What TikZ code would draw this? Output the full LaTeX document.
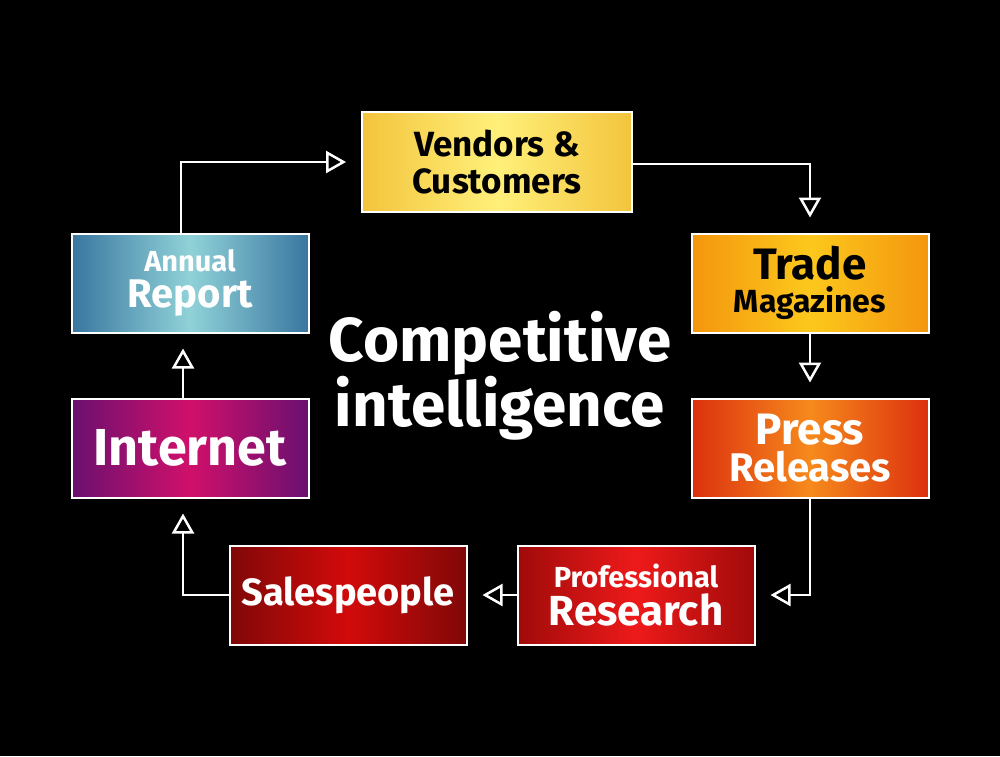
\documentclass[tikz,border=0pt]{standalone}
\usepackage{fontspec}
\setmainfont{Fira Sans}
\usetikzlibrary{arrows.meta, positioning}

\newcommand{\txtsize}[2]{\fontsize{#1}{#2}\selectfont}

\tikzset{
  box/.style={draw=white, line width=2pt, minimum width=237pt, minimum height=99pt,
              inner sep=2pt, align=center, text=white},
  boxshade/.style 2 args={left color=#1, right color=#1, middle color=#2},
  flow/.style={draw=white, line width=2.5pt, shorten >=15pt,
               -{Triangle[open, length=20pt, width=22pt]}}
}

\definecolor{vendout}{HTML}{F3C43C}
\definecolor{vendin}{HTML}{FFF07A}
\definecolor{tradeout}{HTML}{F4960E}
\definecolor{tradein}{HTML}{FCC81C}
\definecolor{pressout}{HTML}{DC300E}
\definecolor{pressin}{HTML}{F68A1C}
\definecolor{profout}{HTML}{A00A0A}
\definecolor{profin}{HTML}{EE1A1A}
\definecolor{salesout}{HTML}{800808}
\definecolor{salesin}{HTML}{D20A0A}
\definecolor{inetout}{HTML}{6A1070}
\definecolor{inetin}{HTML}{D0106A}
\definecolor{annout}{HTML}{3A76A0}
\definecolor{annin}{HTML}{90D2D8}

\begin{document}
\begin{tikzpicture}[x=1pt, y=-1pt]

    % Hintergrund
    \fill[black] (0,0) rectangle (1000,756);
    \useasboundingbox (0,0) rectangle (1000,756);

    % Quellen
    \node[box, boxshade={vendout}{vendin}, minimum width=270pt, minimum height=100pt,
          text=black, font=\bfseries\txtsize{35}{37}]
        (vend) at (497,162)
        {Vendors \&\\Customers};

    \node[box, boxshade={tradeout}{tradein}, text=black, font=\bfseries\txtsize{32}{33}]
        (trade) at (810,283)
        {{\txtsize{44}{44}Trade}\\Magazines};

    \node[box, boxshade={pressout}{pressin}, font=\bfseries\txtsize{40}{37}]
        (press) at (810,448)
        {{\txtsize{44}{44}Press}\\Releases};

    \node[box, boxshade={profout}{profin}, font=\bfseries\txtsize{29}{38}]
        (prof) at (636,595)
        {Professional\\{\txtsize{42}{42}Research}};

    \node[box, boxshade={salesout}{salesin}, font=\bfseries\txtsize{38}{40}]
        (sales) at (348,595)
        {Salespeople};

    \node[box, boxshade={inetout}{inetin}, font=\bfseries\txtsize{52}{54}]
        (inet) at (190,448)
        {Internet};

    \node[box, boxshade={annout}{annin}, font=\bfseries\txtsize{29}{36}]
        (annual) at (190,283)
        {Annual\\{\txtsize{40}{40}Report}};

    % Mitte
    \node[font=\bfseries\txtsize{62}{58}, text=white, align=center]
        (title) at (500,376)
        {Competitive\\intelligence};

    % Kreislauf
    \draw[flow] ([xshift=-9pt]annual.north) |- (vend.west);
    \draw[flow] ([yshift=-2pt]vend.east) -| (trade.north);
    \draw[flow] (trade.south) -- (press.north);
    \draw[flow] (press.south) |- (prof.east);
    \draw[flow] (prof.west) -- (sales.east);
    \draw[flow] (sales.west) -| ([xshift=-7pt]inet.south);
    \draw[flow] ([xshift=-7pt]inet.north) -- ([xshift=-7pt]annual.south);

\end{tikzpicture}
\end{document}
